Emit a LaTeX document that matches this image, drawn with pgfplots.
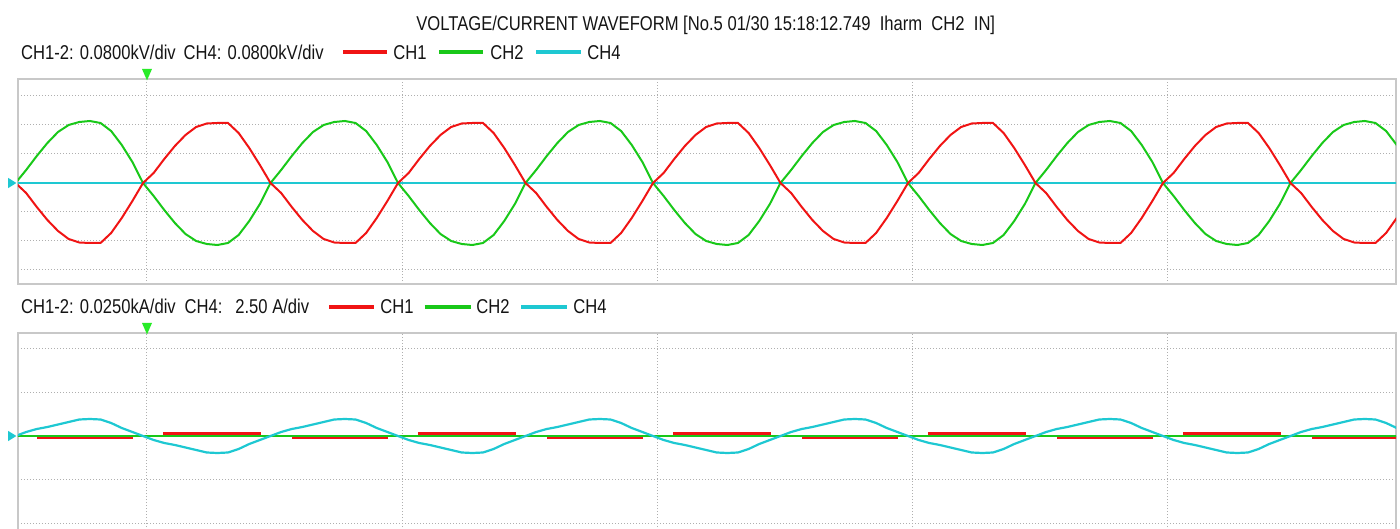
\documentclass[border=0pt]{standalone}
\usepackage{fontspec}
\setmainfont{Liberation Sans}[FakeStretch=0.83]
\usepackage{pgfplots}
\pgfplotsset{compat=1.18}
\usepackage{pgfplotstable}

\definecolor{cred}{RGB}{240,20,20}
\definecolor{cgreen}{RGB}{25,200,25}
\definecolor{ccyan}{RGB}{30,200,210}
\definecolor{cbox}{RGB}{200,200,200}
\definecolor{cgrid}{RGB}{175,175,175}
\definecolor{ctrig}{RGB}{40,235,40}
\definecolor{ctext}{RGB}{20,20,20}

% t = phase (deg), g = CH2 voltage, r = CH1 voltage, c = CH4 current (screen px from centre)
\pgfplotstableread{
t g r c
0 0 0 0
15 13 -10 4
30 27 -24 7
45 40 -37 9
60 51 -48 11.5
75 58 -56 14
90 61 -59.5 16.5
105 62 -60 17
120 60 -60 16.5
135 52 -50 13
150 38 -35 8
165 21 -18 4
180 0 0 0
195 -13 10 -4
210 -27 24 -7
225 -40 37 -9
240 -51 48 -11.5
255 -58 56 -14
270 -61 59.5 -16.5
285 -62 60 -17
300 -60 60 -16.5
315 -52 50 -13
330 -38 35 -8
345 -21 18 -4
360 0 0 0
375 13 -10 4
390 27 -24 7
405 40 -37 9
420 51 -48 11.5
435 58 -56 14
450 61 -59.5 16.5
465 62 -60 17
480 60 -60 16.5
495 52 -50 13
510 38 -35 8
525 21 -18 4
540 0 0 0
555 -13 10 -4
570 -27 24 -7
585 -40 37 -9
600 -51 48 -11.5
615 -58 56 -14
630 -61 59.5 -16.5
645 -62 60 -17
660 -60 60 -16.5
675 -52 50 -13
690 -38 35 -8
705 -21 18 -4
720 0 0 0
735 13 -10 4
750 27 -24 7
765 40 -37 9
780 51 -48 11.5
795 58 -56 14
810 61 -59.5 16.5
825 62 -60 17
840 60 -60 16.5
855 52 -50 13
870 38 -35 8
885 21 -18 4
900 0 0 0
915 -13 10 -4
930 -27 24 -7
945 -40 37 -9
960 -51 48 -11.5
975 -58 56 -14
990 -61 59.5 -16.5
1005 -62 60 -17
1020 -60 60 -16.5
1035 -52 50 -13
1050 -38 35 -8
1065 -21 18 -4
1080 0 0 0
1095 13 -10 4
1110 27 -24 7
1125 40 -37 9
1140 51 -48 11.5
1155 58 -56 14
1170 61 -59.5 16.5
1185 62 -60 17
1200 60 -60 16.5
1215 52 -50 13
1230 38 -35 8
1245 21 -18 4
1260 0 0 0
1275 -13 10 -4
1290 -27 24 -7
1305 -40 37 -9
1320 -51 48 -11.5
1335 -58 56 -14
1350 -61 59.5 -16.5
1365 -62 60 -17
1380 -60 60 -16.5
1395 -52 50 -13
1410 -38 35 -8
1425 -21 18 -4
1440 0 0 0
1455 13 -10 4
1470 27 -24 7
1485 40 -37 9
1500 51 -48 11.5
1515 58 -56 14
1530 61 -59.5 16.5
1545 62 -60 17
1560 60 -60 16.5
1575 52 -50 13
1590 38 -35 8
1605 21 -18 4
1620 0 0 0
1635 -13 10 -4
1650 -27 24 -7
1665 -40 37 -9
1680 -51 48 -11.5
1695 -58 56 -14
1710 -61 59.5 -16.5
1725 -62 60 -17
1740 -60 60 -16.5
1755 -52 50 -13
1770 -38 35 -8
1785 -21 18 -4
1800 0 0 0
1815 13 -10 4
1830 27 -24 7
1845 40 -37 9
1860 51 -48 11.5
1875 58 -56 14
1890 61 -59.5 16.5
1905 62 -60 17
1920 60 -60 16.5
1935 52 -50 13
1950 38 -35 8
}\wave

\pgfplotsset{scopeaxis/.style={
  scale only axis, width=689pt,
  xmin=3.5, xmax=1949,
  axis line style={cbox, line width=1pt},
  xtick={185.6,546,906.3,1266.7,1627},
  xticklabels={}, yticklabels={},
  tick style={draw=none}, major tick length=0pt,
  xmajorgrids, ymajorgrids,
  major grid style={cgrid, line width=0.5pt, dash pattern=on 0.5pt off 1pt},
}}

\begin{document}
\begin{tikzpicture}
\path[use as bounding box] (0,0) rectangle (700pt,264.5pt);
\clip (0,0) rectangle (700pt,264.5pt);

% ---------- top : voltage ----------
\begin{axis}[scopeaxis, at={(9pt,122.5pt)}, anchor=south west,
  height=102.5pt, ymin=-101, ymax=104,
  ytick={-87,-58,-29,0,29,58,87}]
\addplot[ccyan, line width=1.4pt] coordinates {(0,0) (1960,0)};
\addplot[cgreen, line width=1pt] table[x=t,y=g]{\wave};
\addplot[cred, line width=1pt] table[x=t,y=r]{\wave};
\end{axis}

% ---------- bottom : current ----------
\begin{axis}[scopeaxis, at={(9pt,-5pt)}, anchor=south west,
  height=103pt, ymin=-103, ymax=103,
  ytick={-87,-43.5,0,43.5,87}, unbounded coords=jump]
\addplot[cred, line width=1.5pt] coordinates {
 (30,-1.8) (166,-1.8) (167,nan)
 (208,2) (347,2) (348,nan)
 (390,-1.8) (526,-1.8) (527,nan)
 (568,2) (707,2) (708,nan)
 (750,-1.8) (886,-1.8) (887,nan)
 (928,2) (1067,2) (1068,nan)
 (1110,-1.8) (1246,-1.8) (1247,nan)
 (1288,2) (1427,2) (1428,nan)
 (1470,-1.8) (1606,-1.8) (1607,nan)
 (1648,2) (1787,2) (1788,nan)
 (1830,-1.8) (1966,-1.8)};
\addplot[cgreen, line width=1pt] coordinates {(0,0) (1960,0)};
\addplot[ccyan, line width=1.1pt] table[x=t,y=c]{\wave};
\end{axis}

% ---------- trigger / zero markers ----------
\fill[ctrig] (73.5pt,224.3pt) -- (71pt,230pt) -- (76pt,230pt) -- cycle;
\fill[ctrig] (73.5pt,97.3pt) -- (71pt,103pt) -- (76pt,103pt) -- cycle;
\fill[ccyan] (8.2pt,173pt) -- (4pt,175.6pt) -- (4pt,170.4pt) -- cycle;
\fill[ccyan] (8.2pt,46.5pt) -- (4pt,49.1pt) -- (4pt,43.9pt) -- cycle;

% ---------- texts ----------
\begin{scope}[every node/.style={anchor=base west, inner sep=0pt, text=ctext, font=\fontsize{10pt}{12pt}\selectfont}]
\node at (208pt,249.25pt) {VOLTAGE/CURRENT WAVEFORM [No.5 01/30 15:18:12.749\ \ Iharm\ \ CH2\ \ IN]};

\node at (10.35pt,234.85pt) {CH1-2: 0.0800kV/div};
\node at (91.65pt,234.85pt) {CH4: 0.0800kV/div};
\draw[cred, line width=2pt] (171.5pt,238.5pt) -- (193.5pt,238.5pt);
\node at (196.5pt,234.85pt) {CH1};
\draw[cgreen, line width=2pt] (219.5pt,238.5pt) -- (241.5pt,238.5pt);
\node at (245pt,234.85pt) {CH2};
\draw[ccyan, line width=2pt] (268pt,238.5pt) -- (290.5pt,238.5pt);
\node at (293.5pt,234.85pt) {CH4};

\node at (10.35pt,107.5pt) {CH1-2: 0.0250kA/div};
\node at (92.15pt,107.5pt) {CH4:};
\node at (117.5pt,107.5pt) {2.50 A/div};
\draw[cred, line width=2pt] (164.5pt,111pt) -- (187pt,111pt);
\node at (190pt,107.5pt) {CH1};
\draw[cgreen, line width=2pt] (212.25pt,111pt) -- (235.5pt,111pt);
\node at (238pt,107.5pt) {CH2};
\draw[ccyan, line width=2pt] (260.5pt,111pt) -- (283.5pt,111pt);
\node at (286.5pt,107.5pt) {CH4};
\end{scope}
\end{tikzpicture}
\end{document}
